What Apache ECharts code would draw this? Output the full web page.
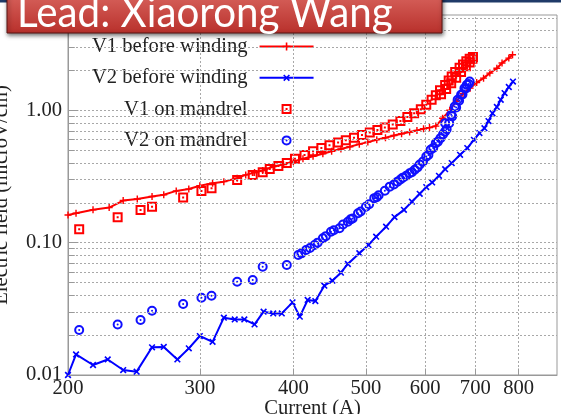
<!DOCTYPE html>
<html>
<head>
<meta charset="utf-8">
<script src="https://cdn.jsdelivr.net/npm/echarts@6/dist/echarts.min.js"></script>
<style>
html,body{margin:0;padding:0;background:#fff;}
#chart{width:561px;height:414px;}
</style>
</head>
<body>
<div id="chart"></div>
<script>
// ---------- data ----------
const xTickValues = [200, 300, 400, 500, 600, 700, 800];
const yMajorValues = [0.01, 0.1, 1];
const yMinorValues = [0.02,0.03,0.04,0.05,0.06,0.07,0.08,0.09,0.2,0.3,0.4,0.5,0.6,0.7,0.8,0.9,2,3,4,5];

const v1BeforeI = [200,205,216,227,237,247.5,259,268.5,279,290,300,312,323,336.5,345.5,355,364,376,
  388,400,412,425,438,450,463,476,490,503,517,531,545,558,572,585,597,608,620,633,647,660,674,689,703,718,732,748,760,776,785];
const v1BeforeE = [0.162,0.167,0.177,0.184,0.208,0.214,0.223,0.230,0.246,0.254,0.269,0.281,0.289,0.307,0.325,0.339,0.351,0.376,
  0.39,0.41,0.43,0.45,0.47,0.49,0.51,0.53,0.555,0.575,0.60,0.62,0.645,0.665,0.685,0.705,0.725,0.74,0.76,0.87,1.0,1.17,1.34,1.47,1.62,1.75,1.91,2.08,2.28,2.48,2.63];

const v2BeforeI = [200,205,216,226,237,247,259,268.5,280,290,300,312,323,334,344,355,365,376,386,399,408,418,428,440,451,463,
  473,490,504,516,532,546,562,576,590,602,613,626,638,651,668,683,697,709,720,729,738,748,757,766,776,786];
const v2BeforeE = [0.0100,0.0143,0.0119,0.0131,0.0109,0.0106,0.0162,0.0163,0.0131,0.0159,0.0197,0.0178,0.0271,0.0263,0.0263,0.0241,0.0301,0.0292,0.0292,0.0354,0.0276,0.0369,0.0362,0.0473,0.0516,0.0593,
  0.069,0.0832,0.0961,0.111,0.132,0.156,0.177,0.204,0.234,0.263,0.285,0.320,0.359,0.399,0.461,0.518,0.598,0.673,0.733,0.83,0.95,1.06,1.2,1.35,1.5,1.65];

const v1MandrelI = [207,233,250,259,285,301.5,311,336.5,353,364,372,382,392,402,414,425,436,447,459,470,482,494,506,518,530,543,556,568,580,592,602,612,620,628,638,645,651,658,667,674,681,688,695,
  630,640,650,660,670,680,688,694];
const v1MandrelE = [0.126,0.1556,0.1767,0.187,0.219,0.246,0.258,0.298,0.325,0.341,0.36,0.38,0.40,0.43,0.46,0.49,0.52,0.545,0.57,0.595,0.62,0.65,0.68,0.71,0.74,0.78,0.83,0.89,0.95,1.02,1.1,1.2,1.3,1.42,1.55,1.68,1.8,1.95,2.1,2.22,2.35,2.45,2.53,
  1.32,1.45,1.6,1.76,1.95,2.15,2.3,2.45];

const v2MandrelI = [207,233,250,259,285,301.5,311,336.5,353,364,392,406,416,427,438,449,461,473,480,488,500,513,520,538,551,560,572,581,590,602,610,620,629,638,638,650,657,663,670,677,682,688,
  410,421,431,442,453,466,477,492,505,517,530,545,556,566,576,586,596,606,615,624,634,641,646,652,660,666,673,680,686];
const v2MandrelE = [0.0219,0.0241,0.0260,0.0306,0.0344,0.0384,0.0397,0.0507,0.0522,0.0658,0.0678,0.0807,0.088,0.0961,0.108,0.121,0.1285,0.144,0.152,0.167,0.187,0.217,0.228,0.265,0.289,0.31,0.335,0.355,0.39,0.447,0.503,0.565,0.616,0.692,0.80,0.925,1.07,1.20,1.31,1.47,1.56,1.65,
  0.083,0.091,0.1,0.112,0.124,0.137,0.15,0.172,0.195,0.22,0.247,0.275,0.3,0.32,0.34,0.37,0.41,0.46,0.52,0.58,0.66,0.72,0.8,0.9,1.05,1.18,1.32,1.46,1.58];

const xName = 'Current (A)';
const yName = 'Electric field (microV/cm)';
const leadText = 'Lead: Xiaorong Wang';

// ---------- helpers ----------
const zip = (a, b) => a.map((v, i) => [v, b[i]]);
const serif = 'Liberation Serif';
const PLUS = 'path://M4,0H6V4H10V6H6V10H4V6H0V4H4Z';
const SQUARE = 'path://M0,0H10V10H0Z M2,2V8H8V2Z M4,4H6V6H4Z';
const CIRCLE = 'path://M0,5A5,5 0 1,1 10,5A5,5 0 1,1 0,5Z M2,5A3,3 0 1,0 8,5A3,3 0 1,0 2,5Z M4,5A1,1 0 1,1 6,5A1,1 0 1,1 4,5Z';

const gridColor = '#a8a8a8';
const frameColor = '#999';
const textColor = '#222';
const fs = 20.6;

const gridLines = [];
xTickValues.filter(v => v > 200).forEach(v => gridLines.push({ xAxis: v }));
yMinorValues.concat([0.1, 1]).forEach(v => gridLines.push({ yAxis: v }));

const xLabelLines = xTickValues.map(v => ({ xAxis: v, lineStyle: { color: 'rgba(0,0,0,0)', width: 0 },
  label: { show: true, position: 'start', formatter: String(v), distance: 3,
    fontFamily: serif, fontSize: fs, color: textColor } }));

// short tick segments (inside) built from tick values through the axes
const tickSegs = [];
yMinorValues.forEach(v => tickSegs.push([{ coord: [200, v] }, { coord: [204.2, v] }]));
yMajorValues.forEach(v => tickSegs.push([{ coord: [200, v] }, { coord: [206.5, v] }]));
xTickValues.filter(v => v > 200).forEach(v => tickSegs.push([{ coord: [v, 0.01] }, { coord: [v, 0.0112] }]));

const chart = echarts.init(document.getElementById('chart'), null, { renderer: 'canvas' });
chart.setOption({
  animation: false,
  backgroundColor: '#fff',
  grid: { left: 68, right: 4, top: 15, bottom: 39, show: true, borderColor: frameColor, borderWidth: 1,
    containLabel: false, outerBoundsMode: 'none' },
  xAxis: {
    type: 'log', logBase: 10, min: 200, max: 900,
    name: xName, nameLocation: 'middle', nameGap: 23,
    nameTextStyle: { fontFamily: serif, fontSize: fs, color: textColor },
    axisLine: { lineStyle: { color: frameColor } },
    axisTick: { show: false }, axisLabel: { show: false }, splitLine: { show: false }
  },
  yAxis: {
    type: 'log', logBase: 10, min: 0.01, max: 5.25,
    name: yName, nameLocation: 'middle', nameGap: 56, nameRotate: 90,
    nameTextStyle: { fontFamily: serif, fontSize: fs, color: textColor },
    axisLine: { lineStyle: { color: frameColor } },
    axisTick: { show: false },
    axisLabel: { showMaxLabel: false, margin: 6, fontFamily: serif, fontSize: fs, color: textColor,
      formatter: v => (v > 5 ? '' : Number(v).toFixed(2)) },
    splitLine: { show: false }
  },
  legend: {
    orient: 'vertical', align: 'right', left: 92, top: 36, itemGap: 10.3, padding: 0,
    itemWidth: 54, itemHeight: 10,
    textStyle: { fontFamily: serif, fontSize: fs, color: textColor, lineHeight: 20, padding: [0, 7, 0, 0] },
    data: ['V1 before winding', 'V2 before winding', 'V1 on mandrel', 'V2 on mandrel']
  },
  series: [
    { name: 'grid', type: 'line', data: [], silent: true, z: 1,
      markLine: { silent: true, symbol: ['none', 'none'], animation: false,
        lineStyle: { color: gridColor, type: [2, 2], width: 1 }, label: { show: false },
        data: gridLines } },
    { name: 'ticks', type: 'line', data: [], silent: true, z: 1,
      markLine: { silent: true, symbol: ['none', 'none'], animation: false,
        lineStyle: { color: frameColor, type: 'solid', width: 1 }, label: { show: false },
        data: tickSegs.concat(xLabelLines) } },
    { name: 'V1 before winding', type: 'line', z: 3, data: zip(v1BeforeI, v1BeforeE),
      symbol: PLUS, symbolSize: 7, showAllSymbol: true,
      lineStyle: { color: '#ff0000', width: 2 }, itemStyle: { color: '#ff0000' } },
    { name: 'V2 before winding', type: 'line', z: 3, data: zip(v2BeforeI, v2BeforeE),
      symbol: PLUS, symbolRotate: 45, symbolSize: 8, showAllSymbol: true,
      lineStyle: { color: '#0000ff', width: 2 }, itemStyle: { color: '#0000ff' } },
    { name: 'V1 on mandrel', type: 'scatter', z: 4, data: zip(v1MandrelI, v1MandrelE),
      symbol: SQUARE, symbolSize: 10, itemStyle: { color: '#ff0000', opacity: 1 } },
    { name: 'V2 on mandrel', type: 'scatter', z: 4, data: zip(v2MandrelI, v2MandrelE),
      symbol: CIRCLE, symbolSize: 10, itemStyle: { color: '#1010ff', opacity: 1 } }
  ],
  graphic: [
    { type: 'rect', z: 100, shape: { x: 0, y: 0, width: 561, height: 2.5 }, style: { fill: '#1f3a68' } },
    { type: 'rect', z: 101, shape: { x: 7, y: -12, width: 435, height: 45 },
      style: { fill: new echarts.graphic.LinearGradient(0, 0, 0, 1, [
          { offset: 0, color: '#dc6a64' }, { offset: 1, color: '#b8302b' }]),
        stroke: '#5a1512', lineWidth: 1,
        shadowBlur: 4, shadowColor: 'rgba(0,0,0,0.55)', shadowOffsetX: 1, shadowOffsetY: 2 } },
    { type: 'text', z: 102, x: 17, y: 13, scaleX: 0.96,
      style: { text: leadText, fill: '#ffffff', font: '42px Lato', verticalAlign: 'middle', align: 'left' } }
  ]
});
</script>
</body>
</html>
